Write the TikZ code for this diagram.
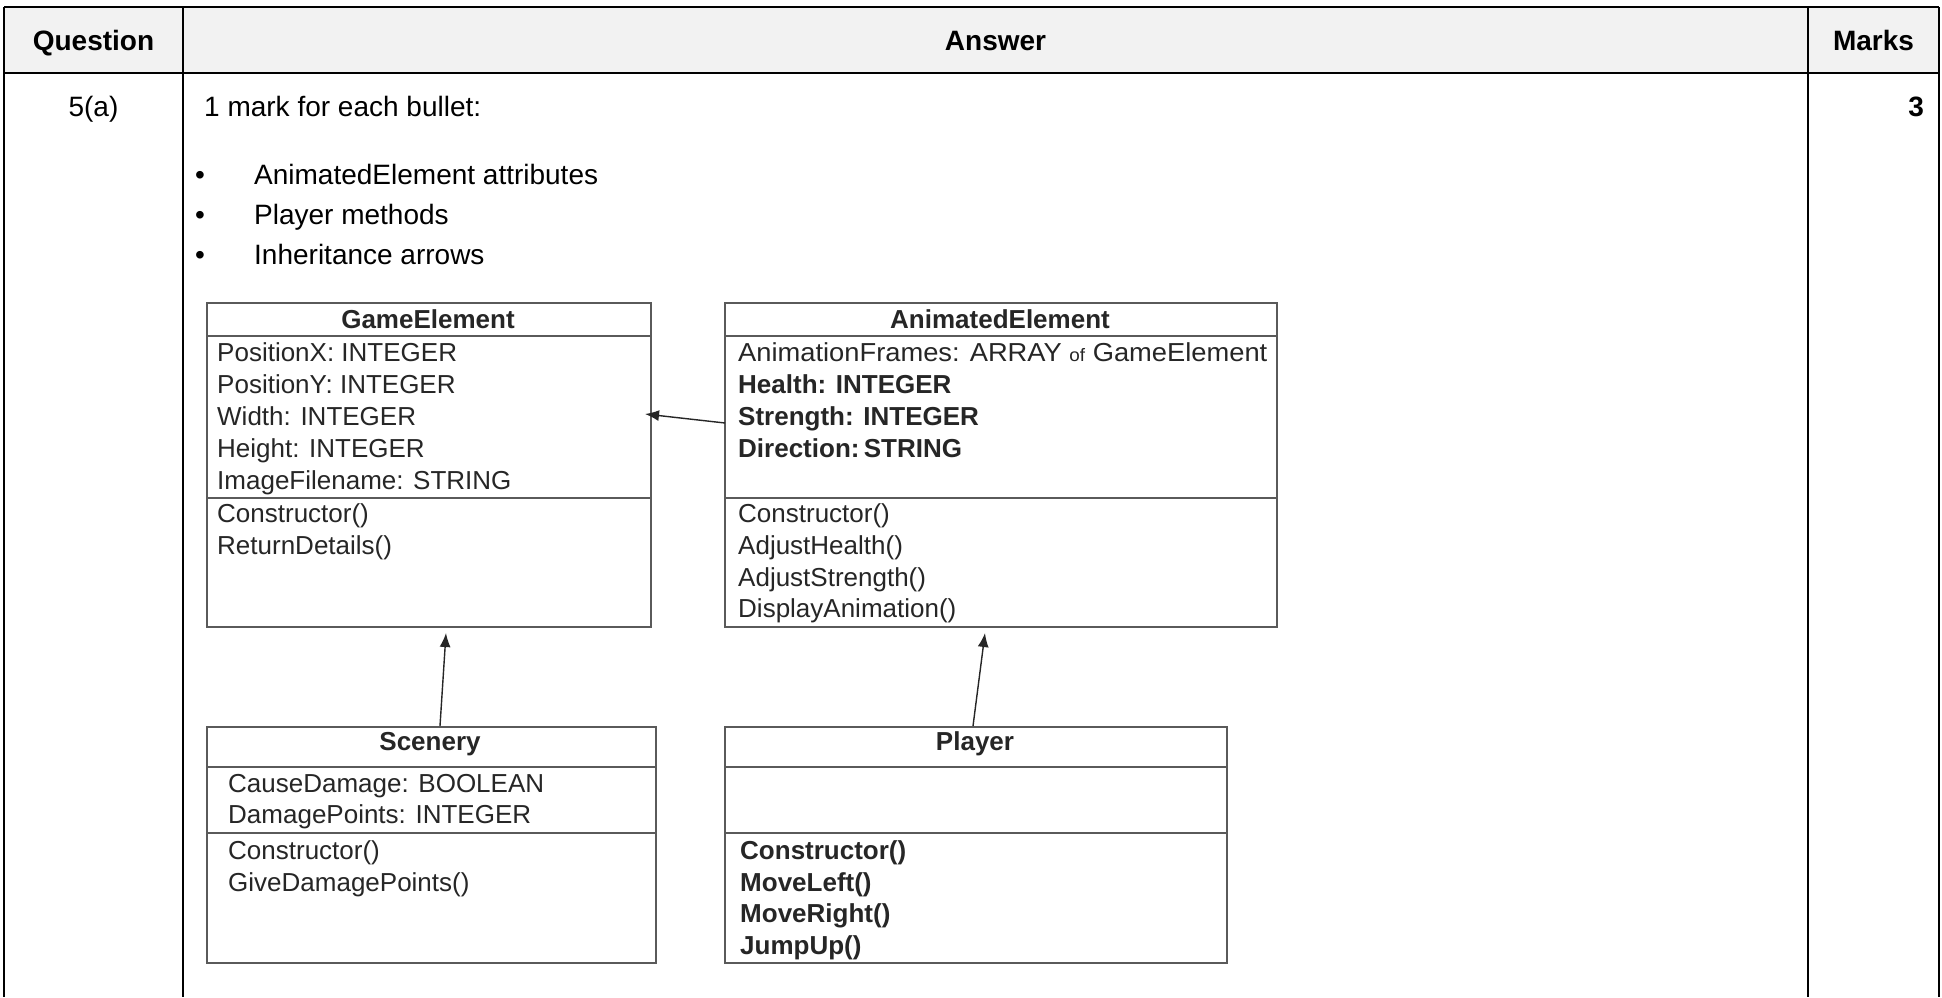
\documentclass[tikz,border=0pt]{standalone}
\usepackage{fontspec}
\usepackage{graphicx}
\setmainfont{Liberation Sans}
\usetikzlibrary{arrows.meta,calc}
\definecolor{hdr}{HTML}{F2F2F2}
\definecolor{umlline}{HTML}{5A5A5A}
\definecolor{umltext}{HTML}{262626}
\begin{document}
\begin{tikzpicture}[x=1pt,y=-1pt,
  tbl/.style={line width=2.6pt, draw=black},
  cell/.style={font=\fontsize{28}{32}\selectfont, inner sep=0pt, anchor=base},
  hd/.style={cell, font=\fontsize{28}{32}\selectfont\bfseries},
  umlbox/.style={draw=umlline, line width=2pt, rectangle, anchor=north west, inner sep=0pt},
  umlsep/.style={draw=umlline, line width=2pt},
  ut/.style={font=\fontsize{26}{31}\selectfont, text=umltext, inner sep=0pt, anchor=base west},
  ub/.style={ut, font=\fontsize{26}{31}\selectfont\bfseries},
  inh/.style={draw=umltext, line width=1.4pt, -{Latex[length=14pt,width=11pt]}}
]
\fill[white] (0,0) rectangle (1942,997);
\useasboundingbox (0,0) rectangle (1942,997);

% table
\fill[hdr] (4,7) rectangle (1939,73);
\draw[tbl] (4,7) -- (1939,7);
\draw[tbl] (4,73) -- (1939,73);
\draw[tbl] (4,7) -- (4,997);
\draw[tbl] (183,7) -- (183,997);
\draw[tbl] (1808,7) -- (1808,997);
\draw[tbl] (1939,7) -- (1939,997);

\node[hd] (hq) at (93.5,50) {Question};
\node[hd] (ha) at (995.5,50) {Answer};
\node[hd] (hm) at (1873.5,50) {Marks};

\node[cell] (q) at (93.5,116) {5(a)};
\node[cell, anchor=base west] (intro) at (204,116) {1 mark for each bullet:};
\node[hd, anchor=base east] (mk) at (1924,116) {3};

\node[cell] (d1) at (200,184) {\textbullet};
\node[cell] (d2) at (200,224) {\textbullet};
\node[cell] (d3) at (200,264) {\textbullet};
\node[cell, anchor=base west] (b1) at (254,184) {AnimatedElement attributes};
\node[cell, anchor=base west] (b2) at (254,224) {Player methods};
\node[cell, anchor=base west] (b3) at (254,264) {Inheritance arrows};

% GameElement
\node[umlbox, minimum width=444pt, minimum height=324pt] (ge) at (206,302) {};
\draw[umlsep] (206,336) -- (650,336);
\draw[umlsep] (206,498) -- (650,498);
\node[ub, anchor=base] (get) at (428,328) {GameElement};
\node[ut] (ge1) at (217,361) {PositionX: INTEGER};
\node[ut] (ge2) at (217,393) {PositionY: INTEGER};
\node[ut] (ge3) at (217,425) {Width: INTEGER};
\node[ut] (ge4) at (217,457) {Height: INTEGER};
\node[ut] (ge5) at (217,489) {ImageFilename: STRING};
\node[ut] (ge6) at (217,522) {Constructor()};
\node[ut] (ge7) at (217,554) {ReturnDetails()};

% AnimatedElement
\node[umlbox, minimum width=552pt, minimum height=324pt] (ae) at (724,302) {};
\draw[umlsep] (724,336) -- (1276,336);
\draw[umlsep] (724,498) -- (1276,498);
\node[ub, anchor=base] (aet) at (1000,328) {AnimatedElement};
\node[ut] (ae1) at (738,361) {\scalebox{1.05}[1]{AnimationFrames: ARRAY {\fontsize{18}{20}\selectfont of} GameElement}};
\node[ub] (ae2) at (738,393) {Health: INTEGER};
\node[ub] (ae3) at (738,425) {Strength: INTEGER};
\node[ub] (ae4) at (738,457) {Direction:\,STRING};
\node[ut] (ae5) at (738,522) {Constructor()};
\node[ut] (ae6) at (738,554) {AdjustHealth()};
\node[ut] (ae7) at (738,586) {AdjustStrength()};
\node[ut] (ae8) at (738,617) {DisplayAnimation()};

% Scenery
\node[umlbox, minimum width=449pt, minimum height=236pt] (sc) at (206,726) {};
\draw[umlsep] (206,767) -- (655,767);
\draw[umlsep] (206,833) -- (655,833);
\node[ub, anchor=base] (sct) at (430,750) {Scenery};
\node[ut] (sc1) at (228,792) {CauseDamage: BOOLEAN};
\node[ut] (sc2) at (228,823) {DamagePoints: INTEGER};
\node[ut] (sc3) at (228,859) {Constructor()};
\node[ut] (sc4) at (228,891) {GiveDamagePoints()};

% Player
\node[umlbox, minimum width=502pt, minimum height=236pt] (pl) at (724,726) {};
\draw[umlsep] (724,767) -- (1226,767);
\draw[umlsep] (724,833) -- (1226,833);
\node[ub, anchor=base] (plt) at (975,750) {Player};
\node[ub] (pl1) at (740,859) {Constructor()};
\node[ub] (pl2) at (740,891) {MoveLeft()};
\node[ub] (pl3) at (740,922) {MoveRight()};
\node[ub] (pl4) at (740,954) {JumpUp()};

% inheritance arrows
\coordinate (a1s) at (725,423);
\coordinate (a1e) at (645,414);
\coordinate (a2s) at (440,726);
\coordinate (a2e) at (446,633);
\coordinate (a3s) at (973,726);
\coordinate (a3e) at (985,633);
\draw[inh] (a1s) -- (a1e);
\draw[inh] (a2s) -- (a2e);
\draw[inh] (a3s) -- (a3e);
\end{tikzpicture}
\end{document}
